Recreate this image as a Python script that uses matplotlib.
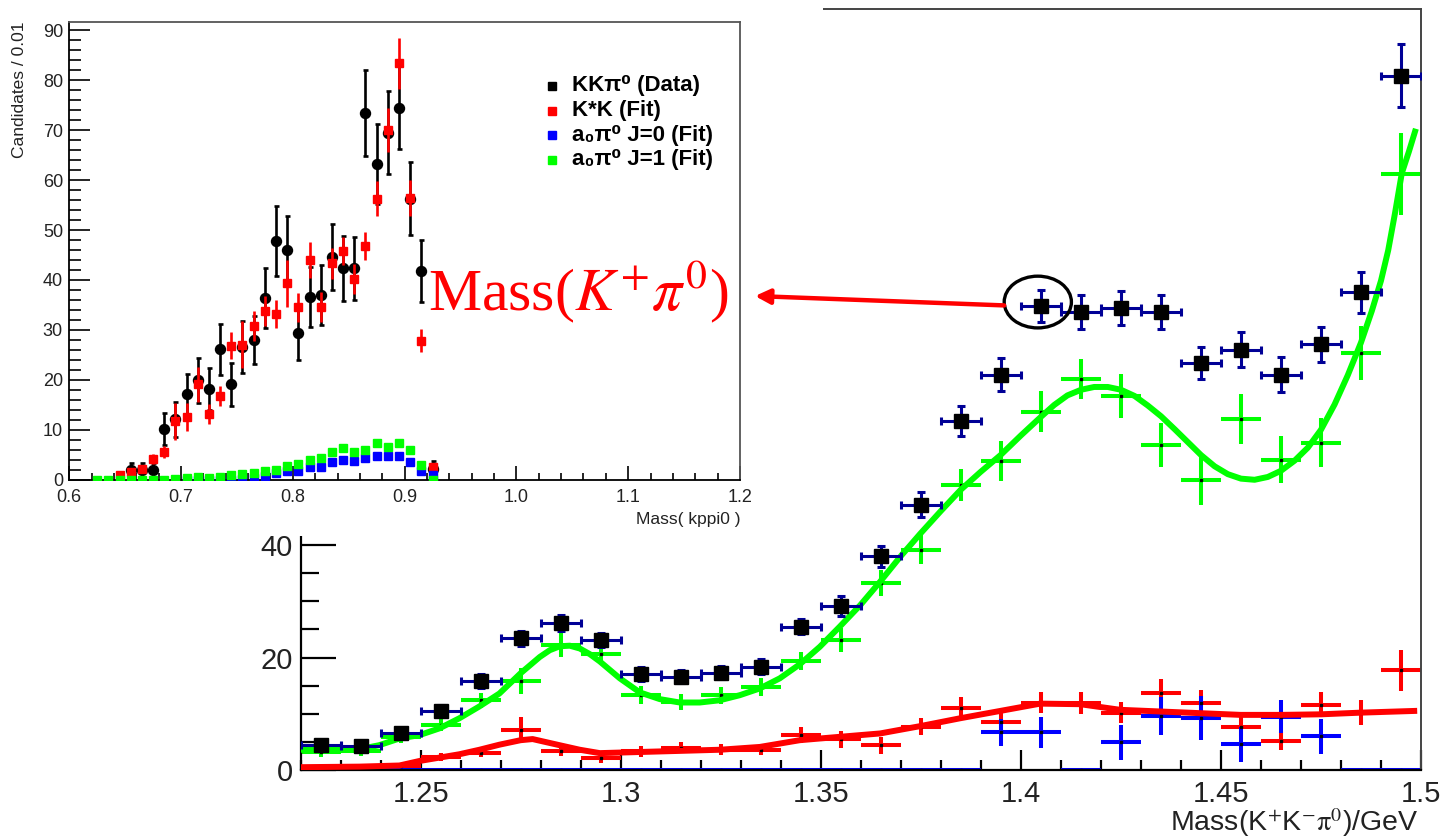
import numpy as np
import matplotlib.pyplot as plt
from matplotlib.patches import Rectangle, Ellipse, FancyArrowPatch
from matplotlib.ticker import MultipleLocator, FixedLocator, FormatStrFormatter

plt.rcParams['font.family'] = ['Liberation Sans', 'DejaVu Sans']
plt.rcParams['mathtext.fontset'] = 'stix'

# ---- main plot: Mass(K+K-pi0), bins of 0.01 GeV ----
main_mass = [1.225, 1.235, 1.245, 1.255, 1.265, 1.275, 1.285, 1.295, 1.305, 1.315,
             1.325, 1.335, 1.345, 1.355, 1.365, 1.375, 1.385, 1.395, 1.405, 1.415,
             1.425, 1.435, 1.445, 1.455, 1.465, 1.475, 1.485, 1.495]
data_y = [4.4, 4.3, 6.5, 10.5, 15.8, 23.4, 26.2, 23.1, 17.1, 16.6,
          17.3, 18.4, 25.5, 29.2, 38.0, 47.2, 62.1, 70.3, 82.5, 81.4,
          82.1, 81.4, 72.4, 74.7, 70.3, 75.7, 84.9, 123.4]
data_err = [0.8, 0.8, 1.0, 1.1, 1.2, 1.3, 1.4, 1.3, 1.2, 1.2,
            1.2, 1.3, 1.4, 1.8, 1.9, 2.2, 2.7, 2.9, 2.8, 3.05,
            3.05, 3.05, 2.8, 3.1, 3.05, 3.1, 3.6, 5.6]
green_y = [3.2, 3.3, 5.8, 8.0, 12.4, 15.8, 22.2, 20.6, 13.3, 12.1,
           13.3, 14.8, 19.3, 23.1, 33.3, 39.2, 50.7, 54.9, 63.7, 69.5,
           66.5, 57.8, 51.6, 62.4, 55.2, 58.2, 74.2, 106.0]
green_err = [0.8, 0.8, 1.0, 1.1, 1.3, 2.3, 2.1, 1.6, 1.6, 1.5,
             1.5, 1.6, 1.6, 2.2, 2.3, 2.5, 2.9, 3.6, 3.6, 3.6,
             3.9, 3.9, 4.4, 4.4, 4.1, 4.3, 4.8, 7.3]
red_y = [0.6, 0.6, 0.7, 2.25, 3.1, 7.2, 3.4, 2.1, 3.3, 4.0,
         3.6, 3.6, 6.2, 5.5, 4.4, 7.7, 11.1, 8.6, 12.0, 11.9,
         10.2, 13.7, 12.0, 7.7, 5.2, 11.6, 10.2, 17.7]
red_err = [0.3, 0.3, 0.4, 0.7, 0.8, 2.2, 0.9, 0.8, 0.9, 1.0,
           1.0, 1.0, 1.4, 1.5, 1.5, 1.5, 1.8, 1.8, 1.9, 1.9,
           1.9, 2.4, 2.2, 1.7, 1.6, 2.2, 2.2, 3.7]
blue_y = [0, 0, 0, 0, 0, 0, 0, 0, 0, 0,
          0, 0, 0, 0, 0, 0, 0, 6.7, 6.7, 0,
          4.9, 9.6, 9.2, 4.6, 9.5, 6.0, 0, 0]
blue_err = [0, 0, 0, 0, 0, 0, 0, 0, 0, 0,
            0, 0, 0, 0, 0, 0, 0, 2.4, 2.8, 0,
            3.1, 3.3, 3.9, 3.1, 3.0, 3.1, 0, 0]

# fit curves
green_curve_m = [1.2198, 1.2245, 1.2345, 1.2395, 1.2446, 1.2496, 1.2546, 1.2596, 1.2646, 1.2696,
                 1.2749, 1.2797, 1.2822, 1.2847, 1.2872, 1.2897, 1.2922, 1.2947, 1.2997, 1.3047,
                 1.3097, 1.3147, 1.3197, 1.3247, 1.3297, 1.3347, 1.3397, 1.3447, 1.3497, 1.3547,
                 1.3598, 1.3648, 1.3698, 1.3748, 1.3799, 1.3849, 1.3899, 1.3949, 1.4000, 1.4050,
                 1.4083, 1.4116, 1.4150, 1.4183, 1.4217, 1.4250, 1.4284, 1.4317, 1.4350, 1.4384,
                 1.4417, 1.4450, 1.4484, 1.4517, 1.4550, 1.4584, 1.4617, 1.4650, 1.4684, 1.4717,
                 1.4750, 1.4784, 1.4817, 1.4850, 1.4877, 1.4900, 1.4918, 1.4935, 1.4952, 1.4970,
                 1.4985]
green_curve_y = [3.6, 3.6, 3.7, 4.4, 5.6, 6.2, 7.4, 9.2, 11.3, 13.6,
                 17.2, 20.1, 21.3, 22.0, 22.1, 21.6, 20.6, 19.3, 16.3, 13.8,
                 12.6, 12.0, 12.0, 12.4, 13.3, 14.5, 16.3, 18.8, 21.9, 25.5,
                 29.3, 33.5, 37.9, 42.0, 46.0, 49.8, 53.0, 56.0, 59.5, 62.8,
                 64.9, 66.6, 67.6, 68.1, 68.1, 67.6, 66.5, 64.8, 62.9, 60.6,
                 58.3, 56.0, 54.0, 52.6, 51.8, 51.6, 52.1, 53.2, 55.0, 57.3,
                 60.5, 65.0, 70.2, 76.0, 81.6, 87.0, 92.4, 99.0, 106.1, 110.0,
                 113.5]
red_curve_m = [1.2198, 1.2346, 1.2446, 1.2496, 1.2546, 1.2596, 1.2646, 1.2696, 1.2749, 1.2779,
               1.2847, 1.2897, 1.2947, 1.3047, 1.3147, 1.3247, 1.3347, 1.3447, 1.3547, 1.3648,
               1.3748, 1.3848, 1.3948, 1.4048, 1.4148, 1.4248, 1.4349, 1.4449, 1.4549, 1.4650,
               1.4750, 1.4850, 1.4983]
red_curve_y = [0.5, 0.6, 0.8, 1.6, 2.2, 2.8, 3.6, 4.5, 5.3, 5.5,
               4.4, 3.6, 3.0, 3.2, 3.4, 3.6, 4.1, 5.3, 5.9, 6.5,
               7.8, 9.2, 10.5, 11.8, 11.7, 10.7, 10.4, 10.1, 9.8, 9.8,
               9.9, 10.2, 10.5]

# ---- inset: Mass( kppi0 ), bins of 0.01 ----
inset_mass = [0.625, 0.635, 0.645, 0.655, 0.665, 0.675, 0.685, 0.695, 0.705, 0.715,
              0.725, 0.735, 0.745, 0.755, 0.765, 0.775, 0.785, 0.795, 0.805, 0.815,
              0.825, 0.835, 0.845, 0.855, 0.865, 0.875, 0.885, 0.895, 0.905, 0.915, 0.925]
kk_y = [1.9, 1.9, 1.9, 10.1, 12.1, 17.1, 19.9, 18.1, 26.1, 19.1,
        26.5, 28.0, 36.3, 47.8, 46.1, 29.4, 36.5, 37.0, 44.6, 42.3,
        42.3, 73.5, 63.2, 69.5, 74.5, 56.3, 41.8, 2.2]          # from 0.655
kk_err = [1.4, 1.4, 1.4, 3.2, 3.5, 4.0, 4.5, 4.2, 5.1, 4.3,
          5.2, 4.8, 6.0, 7.0, 6.8, 5.4, 6.0, 6.0, 6.6, 6.5,
          6.4, 8.6, 8.0, 8.3, 8.3, 7.3, 6.3, 1.5]
kstar_y = [1.0, 1.6, 2.1, 4.1, 5.6, 11.7, 12.6, 19.1, 13.1, 16.8,
           26.8, 27.0, 30.8, 33.8, 33.1, 39.3, 34.5, 44.0, 34.5, 43.3,
           45.8, 40.1, 46.8, 56.3, 70.0, 83.4, 56.5, 27.8, 2.6]     # from 0.645
kstar_err = [0.5, 0.6, 0.8, 1.0, 1.2, 3.7, 2.8, 3.5, 2.0, 2.0,
             2.7, 4.7, 3.0, 3.0, 2.8, 4.7, 2.9, 3.7, 3.0, 3.2,
             2.8, 3.0, 2.8, 3.5, 4.4, 5.1, 3.6, 2.3, 0.6]
a0j0_y = [0, 0, 0, 0, 0, 0.2, 0.3, 0.7, 1.3, 1.7,
          1.8, 2.5, 2.6, 3.6, 4.0, 3.8, 4.3, 4.8, 4.7, 4.8,
          3.6, 1.8, 1.0]                                           # from 0.705
a0j1_y = [0, 0, 0, 0, 0, 0, 0, 0.2, 0.3, 0.6,
          0.3, 0.5, 0.9, 1.1, 1.4, 1.7, 2.0, 2.7, 3.2, 4.0,
          4.4, 5.5, 6.3, 5.5, 6.0, 7.3, 6.5, 7.4, 5.9, 2.9, 0.0]
legend_labels = ["KKπ\u2070 (Data)", "K*K (Fit)", "a\u2080π\u2070 J=0 (Fit)", "a\u2080π\u2070 J=1 (Fit)"]
legend_colors = ['black', '#ff0000', '#0000ff', '#00ff00']

W, H = 1445, 840
def pxbox(x0, y0, x1, y1):
    # pixel box (top-left origin) -> figure rect
    return [x0 / W, 1 - y1 / H, (x1 - x0) / W, (y1 - y0) / H]

fig = plt.figure(figsize=(14.45, 8.4), dpi=100)

# ================= main plot =================
ax = fig.add_axes(pxbox(301, 9, 1421, 770))
ax.set_zorder(0)
ax.errorbar(main_mass, green_y, xerr=0.005, yerr=green_err, fmt='s', ms=1.5, mfc='k', mec='k',
            ecolor='#00ff00', elinewidth=2.9, capsize=0, zorder=2)
ax.errorbar(main_mass, red_y, xerr=0.005, yerr=red_err, fmt='s', ms=1.5, mfc='k', mec='k',
            ecolor='#ff0000', elinewidth=2.9, capsize=0, zorder=2)
ax.errorbar(main_mass, blue_y, xerr=0.005, yerr=blue_err, fmt='s', ms=1.5, mfc='k', mec='k',
            ecolor='#0000ff', elinewidth=2.9, capsize=0, zorder=2)
ax.plot(green_curve_m, green_curve_y, color='#00ff00', lw=4.3, zorder=3)
ax.plot(red_curve_m, red_curve_y, color='#ff0000', lw=4.3, zorder=3)
ax.errorbar(main_mass, data_y, xerr=0.005, yerr=data_err, fmt='s', ms=10, mfc='k', mec='k',
            ecolor='#000096', elinewidth=2.2, capsize=3, capthick=2.2, zorder=5)

ax.set_xlim(1.22, 1.5)
ax.set_ylim(0, 135.3)
ax.xaxis.set_major_locator(FixedLocator([1.25, 1.3, 1.35, 1.4, 1.45, 1.5]))
ax.set_xticklabels(["1.25", "1.3", "1.35", "1.4", "1.45", "1.5"])
ax.xaxis.set_minor_locator(MultipleLocator(0.01))
ax.yaxis.set_major_locator(MultipleLocator(20))
ax.yaxis.set_minor_locator(MultipleLocator(5))
ax.tick_params(axis='x', which='major', direction='in', length=14.5, width=1.6, pad=7,
               labelsize=21, labelcolor='#222222')
ax.tick_params(axis='x', which='minor', direction='in', length=7.5, width=1.6)
ax.tick_params(axis='y', which='major', direction='in', length=25, width=1.6, pad=6,
               labelsize=21, labelcolor='#222222')
ax.tick_params(axis='y', which='minor', direction='in', length=13, width=1.6)
for s in ['left', 'bottom']:
    ax.spines[s].set_linewidth(1.6)
for s in ['top', 'right']:
    ax.spines[s].set_linewidth(1.4)
    ax.spines[s].set_color('#444444')
ax.set_xlabel(r"Mass(K$^{+}$K$^{-}$$\mathrm{\pi}^{0}$)/GeV", fontsize=20.5, ha='right', va='top',
              color='#222222')
ax.xaxis.set_label_coords(0.9973, -0.047)

# circled point
ax.add_patch(Ellipse((1.4042, 83.2), 0.0168, 9.2, fill=False, edgecolor='black', lw=2.4,
                     zorder=6, clip_on=False))

# white backing behind the inset
fig.add_artist(Rectangle((0, 1 - 536 / H), 823 / W, 536 / H, transform=fig.transFigure,
                         facecolor='white', edgecolor='none', zorder=1))

# ================= inset =================
ax_in = fig.add_axes(pxbox(69.2, 22, 740, 479.5))
ax_in.set_zorder(2)
ax_in.errorbar(inset_mass[3:], kk_y, yerr=kk_err, fmt='o', ms=7.2, color='black',
               elinewidth=1.9, capsize=1.8, capthick=1.9, zorder=2)
ax_in.errorbar(inset_mass[2:], kstar_y, yerr=kstar_err, fmt='s', ms=6.2, color='#ff0000',
               elinewidth=1.9, capsize=0, zorder=3)
ax_in.plot(inset_mass[8:], a0j0_y, 's', ms=6.3, color='#0000ff', zorder=4)
ax_in.plot(inset_mass, a0j1_y, 's', ms=6.3, color='#00ff00', zorder=5)

ax_in.set_xlim(0.6, 1.2)
ax_in.set_ylim(0, 91.7)
ax_in.xaxis.set_major_locator(MultipleLocator(0.1))
ax_in.xaxis.set_minor_locator(MultipleLocator(0.02))
ax_in.xaxis.set_major_formatter(FormatStrFormatter('%.1f'))
ax_in.yaxis.set_major_locator(MultipleLocator(10))
ax_in.yaxis.set_minor_locator(MultipleLocator(2))
ax_in.tick_params(axis='x', which='major', direction='in', length=10, width=1.2, pad=7,
                  labelsize=13, labelcolor='#222222')
ax_in.tick_params(axis='x', which='minor', direction='in', length=5, width=1.2)
ax_in.tick_params(axis='y', which='major', direction='in', length=15, width=1.2, pad=4.5,
                  labelsize=13, labelcolor='#222222')
ax_in.tick_params(axis='y', which='minor', direction='in', length=8.6, width=1.2)
for s in ['left', 'bottom']:
    ax_in.spines[s].set_linewidth(1.3)
for s in ['top', 'right']:
    ax_in.spines[s].set_linewidth(1.3)
    ax_in.spines[s].set_color('#555555')
ax_in.set_ylabel("Candidates / 0.01", fontsize=12.5, loc='top', color='#222222')
ax_in.yaxis.set_label_coords(-0.063, 1.0)
ax_in.set_xlabel("Mass( kppi0 )", fontsize=12.5, loc='right', color='#222222')
ax_in.xaxis.set_label_coords(1.0, -0.072)

# inset legend
for i, (lab, c) in enumerate(zip(legend_labels, legend_colors)):
    yy = 1 - (86 + 24.5 * i - 22) / 457.5
    ax_in.plot([(552 - 69.2) / 670.8], [yy], 's', ms=5.5, color=c, transform=ax_in.transAxes,
               clip_on=False)
    ax_in.text((572 - 69.2) / 670.8, yy, lab, transform=ax_in.transAxes, fontsize=16,
               fontweight='bold', ha='left', va='center', color='black')

# red annotation pointing from the circled point to the inset
fig.text(428 / W, 1 - 310 / H, r"Mass($K^{+}\pi^{0}$)", color='#ff0000', fontsize=43,
         family='Liberation Serif', ha='left', va='baseline', zorder=6)
start = fig.transFigure.inverted().transform(ax.transData.transform((1.3958, 82.6)))
arrow = FancyArrowPatch(posA=tuple(start), posB=(755 / W, 1 - 296 / H), transform=fig.transFigure,
                        arrowstyle='-|>', mutation_scale=22, color='#ff0000', lw=3.2,
                        shrinkA=0, shrinkB=0, zorder=6)
fig.add_artist(arrow)

fig.savefig("out.png", dpi=100)
